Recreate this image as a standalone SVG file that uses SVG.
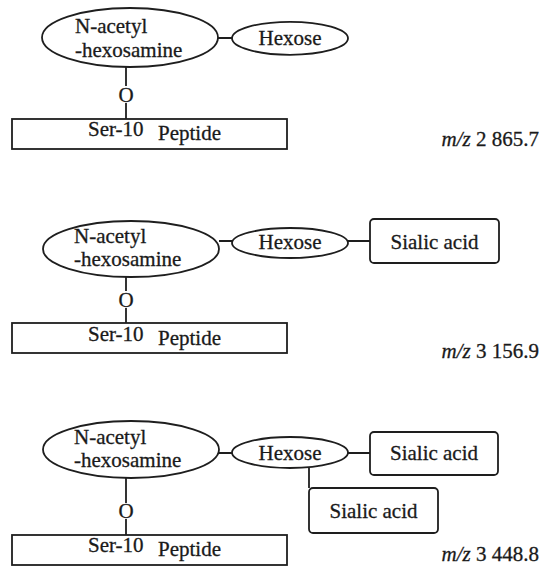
<svg xmlns="http://www.w3.org/2000/svg" width="542" height="567" viewBox="0 0 542 567">
<style>
.s{fill:#fff;stroke:#1e1e1e;stroke-width:1.8}
.c{fill:none;stroke:#1e1e1e;stroke-width:1.8}
text{font-family:"Liberation Serif","Times New Roman",serif;font-size:21px;fill:#1a1a1a;stroke:#1a1a1a;stroke-width:0.3}
.m{text-anchor:middle}
.e{text-anchor:end}
</style>
<rect width="542" height="567" fill="#fff"/>
<g id="connectors">
<path class="c" d="M218 38H232M126 67V86M126 103V119"/>
<path class="c" d="M219 241H232M348 241H370M126 277V291M126 308V323"/>
<path class="c" d="M219 453H232M348 453H370M309 468V488M126 478V503M126 519V535"/>
</g>
<g id="p1-galnac"><ellipse class="s" cx="130" cy="37.5" rx="88" ry="29.5"/><text x="75" y="33">N-acetyl</text><text x="75" y="57">-hexosamine</text></g>
<g id="p1-hexose"><ellipse class="s" cx="290" cy="38.3" rx="58" ry="16.5"/><text class="m" x="290" y="45">Hexose</text></g>
<g id="p1-o"><text class="m" x="126" y="102">O</text></g>
<g id="p1-peptide"><rect class="s" x="12" y="119" width="275" height="30"/><text x="88" y="136">Ser-10</text><text x="158" y="140">Peptide</text></g>
<text x="539" y="146" class="e"><tspan font-style="italic">m/z</tspan> 2 865.7</text>

<g id="p2-galnac"><ellipse class="s" cx="131" cy="249" rx="88" ry="28"/><text x="74" y="243">N-acetyl</text><text x="74" y="266">-hexosamine</text></g>
<g id="p2-hexose"><ellipse class="s" cx="290" cy="243" rx="58" ry="15"/><text class="m" x="290" y="249">Hexose</text></g>
<g id="p2-sialic"><rect class="s" x="370" y="219" width="129" height="44" rx="4"/><text class="m" x="434.5" y="249">Sialic acid</text></g>
<g id="p2-o"><text class="m" x="126" y="307">O</text></g>
<g id="p2-peptide"><rect class="s" x="12" y="323" width="275" height="30"/><text x="88" y="341">Ser-10</text><text x="158" y="345">Peptide</text></g>
<text x="539" y="358" class="e"><tspan font-style="italic">m/z</tspan> 3 156.9</text>

<g id="p3-galnac"><ellipse class="s" cx="131" cy="449.5" rx="88" ry="28.5"/><text x="74" y="444">N-acetyl</text><text x="74" y="467">-hexosamine</text></g>
<g id="p3-hexose"><ellipse class="s" cx="290" cy="452.5" rx="58" ry="15.5"/><text class="m" x="290" y="460">Hexose</text></g>
<g id="p3-sialic1"><rect class="s" x="370" y="432" width="128" height="43" rx="4"/><text class="m" x="434" y="460">Sialic acid</text></g>
<g id="p3-sialic2"><rect class="s" x="309" y="488" width="129" height="45" rx="4"/><text class="m" x="373.5" y="518">Sialic acid</text></g>
<g id="p3-o"><text class="m" x="126" y="518">O</text></g>
<g id="p3-peptide"><rect class="s" x="12" y="535" width="275" height="30"/><text x="88" y="552">Ser-10</text><text x="158" y="556">Peptide</text></g>
<text x="539" y="561" class="e"><tspan font-style="italic">m/z</tspan> 3 448.8</text>
</svg>
